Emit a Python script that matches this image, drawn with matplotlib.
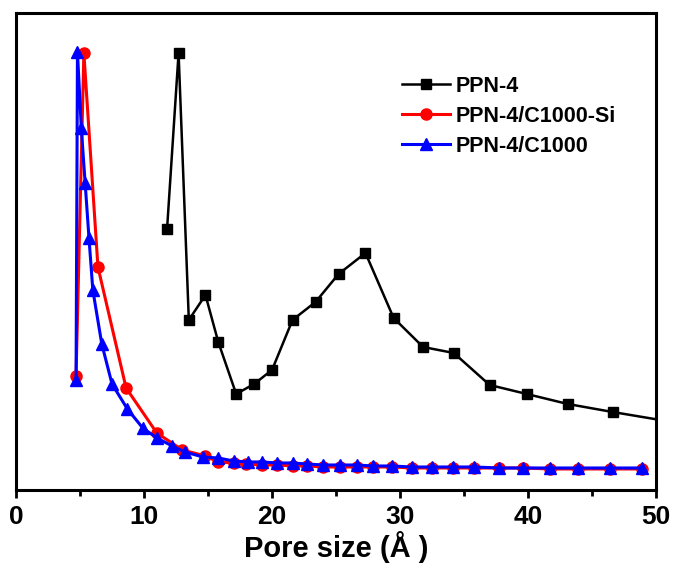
import matplotlib
matplotlib.use('Agg')
import matplotlib.pyplot as plt
from matplotlib.ticker import MultipleLocator

plt.rcParams['font.family'] = ['Liberation Sans', 'DejaVu Sans']
plt.rcParams['font.weight'] = 'bold'

# PPN-4
x_ppn = [11.8, 12.7, 13.5, 14.8, 15.8, 17.2, 18.6, 20.0, 21.6, 23.4, 25.2, 27.3,
         29.5, 31.8, 34.2, 37.0, 39.9, 43.1, 46.6, 50.8]
y_ppn = [2.61, 4.37, 1.70, 1.95, 1.48, 0.96, 1.06, 1.20, 1.70, 1.88, 2.16, 2.37,
         1.72, 1.43, 1.37, 1.05, 0.96, 0.86, 0.78, 0.69]

# PPN-4/C1000-Si
x_si = [4.69, 5.3, 6.4, 8.6, 11.0, 13.0, 14.8, 15.8, 17.0, 18.0, 19.2, 20.4, 21.6,
        22.7, 24.0, 25.3, 26.6, 27.9, 29.4, 30.9, 32.5, 34.1, 35.8, 37.7, 39.6,
        41.7, 43.9, 46.4, 48.9]
y_si = [1.14, 4.37, 2.23, 1.02, 0.57, 0.40, 0.34, 0.28, 0.27, 0.26, 0.25, 0.25,
        0.24, 0.24, 0.23, 0.23, 0.23, 0.23, 0.23, 0.22, 0.22, 0.22, 0.22, 0.22,
        0.22, 0.21, 0.21, 0.21, 0.21]

# PPN-4/C1000
x_c = [4.69, 4.8, 5.1, 5.4, 5.7, 6.0, 6.7, 7.5, 8.7, 9.9, 11.0, 12.2, 13.2, 14.6,
       15.8, 17.0, 18.1, 19.2, 20.4, 21.6, 22.7, 24.0, 25.3, 26.6, 27.9, 29.4,
       30.9, 32.5, 34.1, 35.8, 37.7, 39.6, 41.7, 43.9, 46.4, 48.9]
y_c = [1.10, 4.38, 3.62, 3.07, 2.52, 2.00, 1.46, 1.06, 0.81, 0.62, 0.52, 0.44,
       0.38, 0.33, 0.32, 0.29, 0.28, 0.28, 0.27, 0.27, 0.26, 0.25, 0.25, 0.25,
       0.24, 0.24, 0.23, 0.23, 0.23, 0.23, 0.22, 0.22, 0.22, 0.22, 0.22, 0.22]

fig = plt.figure(figsize=(6.73, 5.71), dpi=100)
ax = fig.add_axes([0.0238, 0.1419, 0.951, 0.8353])

ax.plot(x_ppn, y_ppn, color='black', marker='s', markersize=7, linewidth=1.8, label='PPN-4')
ax.plot(x_si, y_si, color='red', marker='o', markersize=8, linewidth=2.2, label='PPN-4/C1000-Si')
ax.plot(x_c, y_c, color='blue', marker='^', markersize=8, linewidth=2.2, label='PPN-4/C1000')

ax.set_xlim(0, 50)
ax.set_ylim(0, 4.77)
ax.xaxis.set_major_locator(MultipleLocator(10))
ax.xaxis.set_minor_locator(MultipleLocator(5))
ax.set_yticks([])
ax.tick_params(axis='x', which='major', direction='out', length=6, width=2, labelsize=19, pad=5)
ax.tick_params(axis='x', which='minor', direction='out', length=4, width=2)
for lab in ax.get_xticklabels():
    lab.set_fontweight('bold')
for s in ax.spines.values():
    s.set_linewidth(2.2)

ax.set_xlabel('Pore size (Å )', fontsize=21, fontweight='bold', labelpad=1)

ax.legend(loc='upper left', bbox_to_anchor=(0.58, 0.9), frameon=False, fontsize=15.5,
          handlelength=2.2, handletextpad=0.3, labelspacing=0.42, borderpad=0.2)

plt.savefig('out.png', dpi=100)
